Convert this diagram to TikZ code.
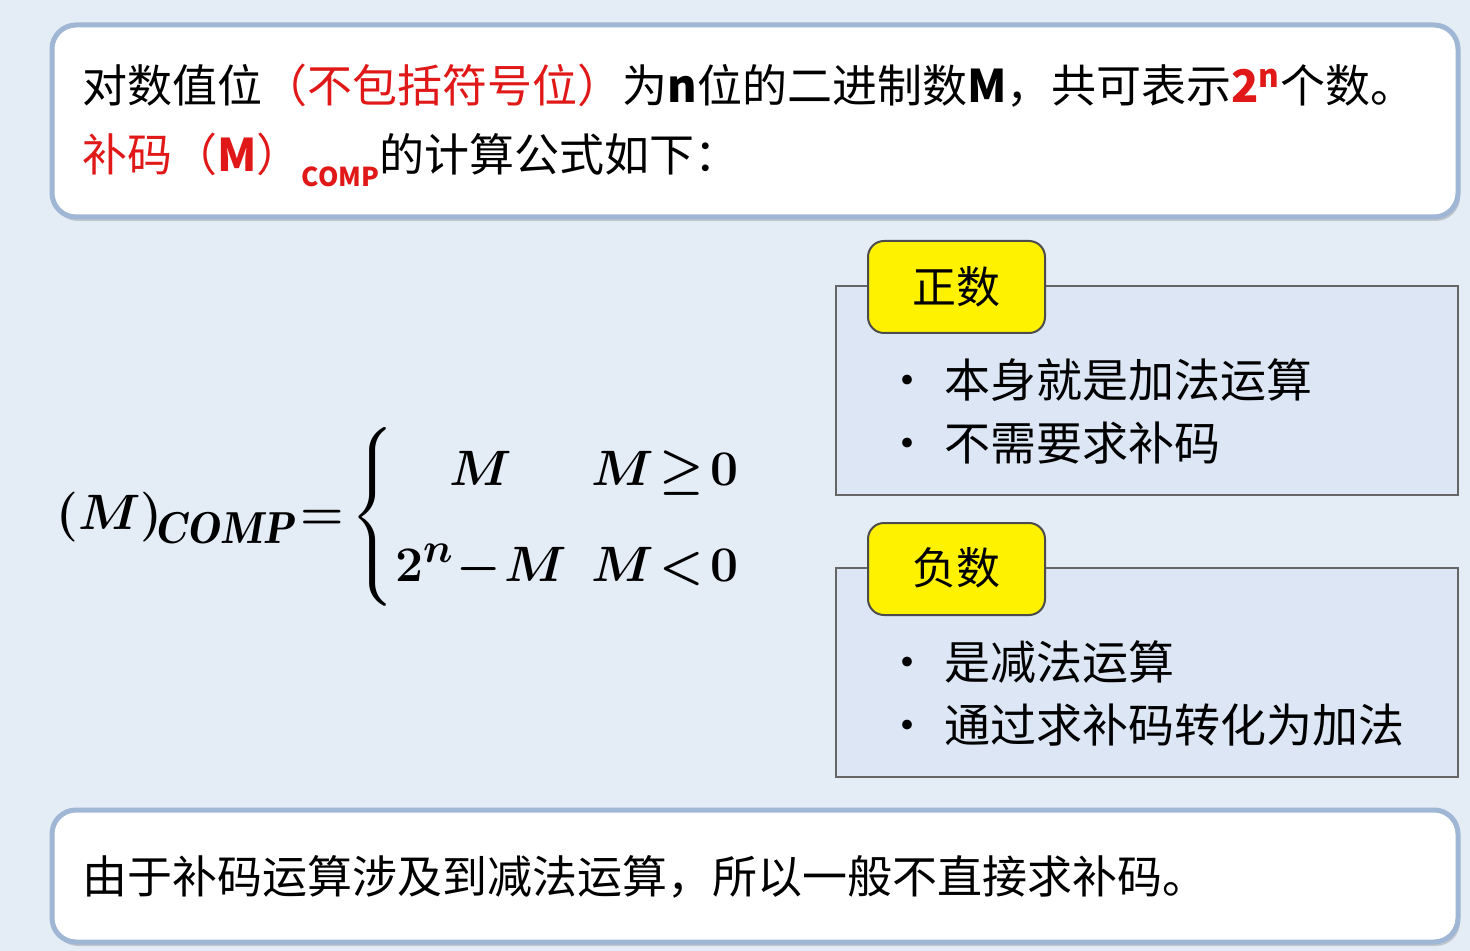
\documentclass[tikz,border=0pt]{standalone}
\usepackage{fontspec}
\usepackage{amsmath}
\newfontfamily\cjk{Noto Sans CJK SC}
\usetikzlibrary{shadows}
\definecolor{bg}{HTML}{E4ECF6}
\definecolor{bord}{HTML}{9FB6D4}
\definecolor{panel}{HTML}{DCE6F4}
\definecolor{redt}{HTML}{E01818}
\begin{document}
\begin{tikzpicture}[x=0.5pt,y=-0.5pt,
  card/.style={draw=bord,line width=2.5pt,fill=white,rounded corners=12pt,drop shadow={opacity=0.35,shadow xshift=1pt,shadow yshift=-2pt}},
  panelbox/.style={draw=black!60,line width=1pt,fill=panel},
  tab/.style={draw=black!70,line width=1pt,fill=yellow,rounded corners=8pt},
  txt/.style={anchor=west,inner sep=0pt,font=\cjk\fontsize{22.5}{26}\selectfont},
  bul/.style={anchor=west,inner sep=0pt,font=\cjk\fontsize{23}{26}\selectfont}]
\fill[bg] (0,0) rectangle (1470,951);
\useasboundingbox (0,0) rectangle (1470,951);
\draw[card] (52,25) rectangle (1458,217);
\node[txt] (l1) at (82,86) {对数值位\textcolor{redt}{（不包括符号位）}为\textbf{n}位的二进制数\textbf{M}，共可表示\textcolor{redt}{\textbf{2\textsuperscript{n}}}个数。};
\node[txt] (l2) at (82,160) {\textcolor{redt}{补码（\textbf{M}）\raisebox{-0.6ex}{\fontsize{13}{13}\selectfont\textbf{COMP}}}的计算公式如下：};
\draw[panelbox] (836,286) rectangle (1458,495);
\draw[tab] (868,241) rectangle (1045,333);
\node[font=\cjk\fontsize{22}{24}\selectfont] (t1) at (956,287) {正数};
\node[bul] (b1) at (884,380) {•\hspace{7pt}本身就是加法运算};
\node[bul] (b2) at (884,443) {•\hspace{7pt}不需要求补码};
\draw[panelbox] (836,568) rectangle (1458,777);
\draw[tab] (868,523) rectangle (1045,615);
\node[font=\cjk\fontsize{22}{24}\selectfont] (t2) at (956,568) {负数};
\node[bul] (b3) at (884,662) {•\hspace{7pt}是减法运算};
\node[bul] (b4) at (884,725) {•\hspace{7pt}通过求补码转化为加法};
\node[anchor=west,inner sep=0pt,font=\fontsize{32}{40}\selectfont\boldmath] (f) at (56,517)
 {$\boldsymbol{(}M\boldsymbol{)}_{\!\mathit{COMP}}\!=\!\left\{\begin{array}{@{}c@{\hspace{12pt}}l@{}}M & M\!\geq\! 0\\[8pt] 2^n\!-\!M & M\!<\!0\end{array}\right.$};
\draw[card] (52,810) rectangle (1458,942);
\node[txt] (l3) at (82,877) {由于补码运算涉及到减法运算，所以一般不直接求补码。};
\end{tikzpicture}
\end{document}
